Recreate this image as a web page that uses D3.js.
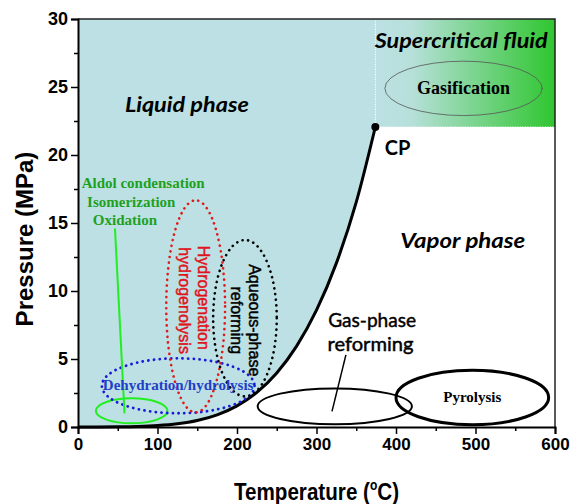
<!DOCTYPE html>
<html>
<head>
<meta charset="utf-8">
<script src="https://cdn.jsdelivr.net/npm/d3@7"></script>
<style>
  body { margin: 0; background: #fff; }
  svg { display: block; }
</style>
</head>
<body>
<div id="chart"></div>
<script>
// water vapour pressure curve (deg C, MPa)
const tempC = [0, 25, 50, 75, 100, 125, 150, 175, 200, 225, 250, 275, 300, 325, 350, 374];
const satP = [0.0006, 0.0032, 0.0124, 0.0386, 0.1014, 0.2321, 0.4762, 0.8926, 1.555, 2.548, 3.976, 5.95, 8.588, 12.05, 16.53, 22.06];
const critPoint = [374, 22.06];

const xTicks = [0, 100, 200, 300, 400, 500, 600];
const xMinor = [50, 150, 250, 350, 450, 550];
const yTicks = [0, 5, 10, 15, 20, 25, 30];
const yMinor = [2.5, 7.5, 12.5, 17.5, 22.5, 27.5];

// process regions: centre temp, centre pressure, half width (deg C), half height (MPa)
const regionNames = ["Gasification", "Pyrolysis", "Gas-phase", "Condensation", "Dehydration", "Hydrogenation", "Aqueous"];
const regionT = [485, 496, 323, 67.5, 126, 148, 210];
const regionP = [24.9, 2.17, 1.52, 1.19, 3.03, 8.87, 8.0];
const regionRT = [99, 96, 97, 45, 96, 37, 40];
const regionRP = [2.0, 2.0, 1.32, 0.92, 2.02, 7.8, 5.75];

const W = 572, H = 504;
const margin = { top: 19, right: 17, bottom: 77, left: 78 };

const x = d3.scaleLinear().domain([0, 600]).range([margin.left, W - margin.right]);
const y = d3.scaleLinear().domain([0, 30]).range([H - margin.bottom, margin.top]);

const svg = d3.select("#chart").append("svg")
  .attr("width", W)
  .attr("height", H);

const defs = svg.append("defs");
const grad = defs.append("linearGradient")
  .attr("id", "scGrad")
  .attr("x1", "0%").attr("x2", "100%").attr("y1", "0%").attr("y2", "0%");
grad.append("stop").attr("offset", "0%").attr("stop-color", "#bce0e3");
grad.append("stop").attr("offset", "20%").attr("stop-color", "#b7e0da");
grad.append("stop").attr("offset", "100%").attr("stop-color", "#2fc62f");

const curve = tempC.map((t, i) => [t, satP[i]]);

// liquid region
const liquid = d3.area()
  .x(d => x(d[0]))
  .y0(y(30))
  .y1(d => y(d[1]))
  .curve(d3.curveMonotoneX);
svg.append("path")
  .attr("d", liquid(curve))
  .attr("fill", "#bce0e3");

// supercritical region
svg.append("rect")
  .attr("x", x(critPoint[0]))
  .attr("y", y(30))
  .attr("width", x(600) - x(critPoint[0]))
  .attr("height", y(critPoint[1]) - y(30))
  .attr("fill", "url(#scGrad)");
svg.append("path")
  .attr("d", "M" + x(critPoint[0]) + "," + y(30) + "V" + y(critPoint[1]) + "H" + x(600))
  .attr("fill", "none")
  .attr("stroke", "#ffffff")
  .attr("stroke-width", 1)
  .attr("stroke-dasharray", "1 1.5");

// frame top + right
svg.append("path")
  .attr("d", "M" + x(0) + "," + y(30) + "H" + x(600) + "V" + y(0))
  .attr("fill", "none")
  .attr("stroke", "#222")
  .attr("stroke-width", 1.5);

// boiling curve
const line = d3.line()
  .x(d => x(d[0]))
  .y(d => y(d[1]))
  .curve(d3.curveMonotoneX);
svg.append("path")
  .attr("d", line(curve))
  .attr("fill", "none")
  .attr("stroke", "#000")
  .attr("stroke-width", 3);
svg.append("circle")
  .attr("cx", x(critPoint[0]))
  .attr("cy", y(critPoint[1]))
  .attr("r", 4)
  .attr("fill", "#000");

// region ellipses
const regionStyle = {
  Gasification: { stroke: "#555", width: 0.8, dash: null },
  Pyrolysis: { stroke: "#000", width: 3, dash: null },
  "Gas-phase": { stroke: "#000", width: 2, dash: null },
  Condensation: { stroke: "#22ee22", width: 2, dash: null },
  Dehydration: { stroke: "#1a1adc", width: 2.8, dash: "0.1 5.6" },
  Hydrogenation: { stroke: "#e01a1a", width: 2.6, dash: "0.1 5.6" },
  Aqueous: { stroke: "#000", width: 2.6, dash: "0.1 5.6" }
};
const dx = x(1) - x(0), dy = y(0) - y(1);
regionNames.forEach((name, i) => {
  const s = regionStyle[name];
  svg.append("ellipse")
    .attr("cx", x(regionT[i]))
    .attr("cy", y(regionP[i]))
    .attr("rx", regionRT[i] * dx)
    .attr("ry", regionRP[i] * dy)
    .attr("fill", "none")
    .attr("stroke", s.stroke)
    .attr("stroke-width", s.width)
    .attr("stroke-linecap", "round")
    .attr("stroke-dasharray", s.dash);
});

// leader lines
svg.append("line")
  .attr("x1", x(46.5)).attr("y1", y(14.6))
  .attr("x2", x(58.5)).attr("y2", y(1.0))
  .attr("stroke", "#22ee22").attr("stroke-width", 2);
svg.append("line")
  .attr("x1", x(337)).attr("y1", y(5.3))
  .attr("x2", x(319.5)).attr("y2", y(1.15))
  .attr("stroke", "#000").attr("stroke-width", 1.5);

// labels
const calibri = "Lato, 'Open Sans', sans-serif";
const times = "'Liberation Serif', 'Times New Roman', serif";
const arial = "'Liberation Sans', Arial, sans-serif";

function label(t, p, txt, font, size, opts) {
  opts = opts || {};
  const el = svg.append("text")
    .attr("x", x(t))
    .attr("y", y(p))
    .attr("text-anchor", "middle")
    .attr("font-family", font)
    .attr("font-size", size)
    .attr("font-weight", opts.weight || "normal")
    .attr("font-style", opts.style || "normal")
    .attr("fill", opts.fill || "#000")
    .text(txt);
  if (opts.len) el.attr("textLength", opts.len).attr("lengthAdjust", "spacingAndGlyphs");
  if (opts.thick) el.attr("stroke", opts.fill || "#000").attr("stroke-width", opts.thick);
  return el;
}

label(137, 23.14, "Liquid phase", calibri, 21, { style: "italic", weight: "bold", len: 124 });
label(482, 27.85, "Supercritical fluid", calibri, 21, { style: "italic", weight: "bold", len: 173 });
label(402, 20.0, "CP", calibri, 20, { weight: "bold" });
label(484, 13.14, "Vapor phase", calibri, 21, { style: "italic", weight: "bold", len: 125 });
label(370, 7.35, "Gas-phase", calibri, 19.5, { len: 88, thick: 0.45 });
label(368, 5.6, "reforming", calibri, 19.5, { len: 86, thick: 0.45 });
label(485, 24.5, "Gasification", times, 18, { weight: "bold" });
label(496, 1.82, "Pyrolysis", times, 15, { weight: "bold" });
label(82, 17.6, "Aldol condensation", times, 15, { weight: "bold", fill: "#1ea01e" });
label(67, 16.2, "Isomerization", times, 15, { weight: "bold", fill: "#1ea01e" });
label(59, 14.85, "Oxidation", times, 15, { weight: "bold", fill: "#1ea01e" });
label(126, 2.7, "Dehydration/hydrolysis", times, 15, { weight: "bold", fill: "#1f3fc8" });

function vlabel(t, p, txt, fill) {
  svg.append("text")
    .attr("transform", "translate(" + x(t) + "," + y(p) + ") rotate(90)")
    .attr("text-anchor", "middle")
    .attr("dy", "0.35em")
    .attr("font-family", arial)
    .attr("font-size", 16)
    .attr("fill", fill)
    .attr("stroke", fill)
    .attr("stroke-width", 0.45)
    .text(txt);
}
vlabel(157.5, 9.5, "Hydrogenation", "#e0141c");
vlabel(134.5, 9.3, "hydrogenolysis", "#e0141c");
vlabel(222.5, 7.85, "Aqueous-phase", "#000");
vlabel(199, 7.85, "reforming", "#000");

// axes
const xAxis = svg.append("g")
  .attr("transform", "translate(0," + y(0) + ")")
  .call(d3.axisBottom(x).tickValues(xTicks).tickSize(7).tickPadding(4));
svg.append("g")
  .attr("transform", "translate(0," + y(0) + ")")
  .call(d3.axisBottom(x).tickValues(xMinor).tickSize(4).tickFormat(""))
  .call(g => g.select(".domain").remove());
const yAxis = svg.append("g")
  .attr("transform", "translate(" + x(0) + ",0)")
  .call(d3.axisLeft(y).tickValues(yTicks).tickSize(7).tickPadding(3));
svg.append("g")
  .attr("transform", "translate(" + x(0) + ",0)")
  .call(d3.axisLeft(y).tickValues(yMinor).tickSize(4).tickFormat(""))
  .call(g => g.select(".domain").remove());

svg.selectAll(".domain").attr("stroke", "#000").attr("stroke-width", 2);
svg.selectAll(".tick line").attr("stroke", "#000").attr("stroke-width", 1.5);
xAxis.selectAll("text")
  .attr("font-family", arial).attr("font-weight", "bold").attr("font-size", 17).attr("fill", "#000");
yAxis.selectAll("text")
  .attr("font-family", arial).attr("font-weight", "bold").attr("font-size", 18).attr("fill", "#000");

// axis titles
const xt = svg.append("text")
  .attr("transform", "translate(" + ((x(0) + x(600)) / 2) + ",500) scale(0.86,1)")
  .attr("text-anchor", "middle")
  .attr("font-family", arial)
  .attr("font-weight", "bold")
  .attr("font-size", 24)
  .attr("fill", "#000");
xt.append("tspan").text("Temperature (");
xt.append("tspan").attr("font-size", 14).attr("dy", -10).text("o");
xt.append("tspan").attr("dy", 10).text("C)");

svg.append("text")
  .attr("transform", "translate(33," + ((y(0) + y(30)) / 2 + 16) + ") rotate(-90)")
  .attr("text-anchor", "middle")
  .attr("font-family", arial)
  .attr("font-weight", "bold")
  .attr("font-size", 24)
  .attr("fill", "#000")
  .text("Pressure (MPa)");
</script>
</body>
</html>
